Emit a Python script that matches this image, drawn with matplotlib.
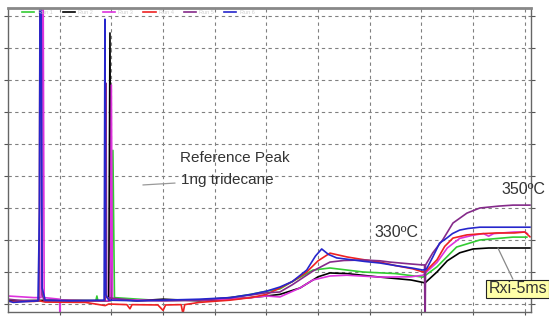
import matplotlib
matplotlib.use("Agg")
import matplotlib.pyplot as plt

plt.rcParams['font.family'] = ['Liberation Sans', 'DejaVu Sans']

# ---- data (time units, signal units) ----
green_x = [0, 1.5, 1.70, 1.72, 1.74, 2.0, 2.03, 2.06, 3.0, 3.7, 4.3, 4.7, 5.0, 5.26, 5.5, 5.9, 6.23,
           6.87, 7.5, 8.03, 8.3, 8.68, 9.13, 9.77, 10.04]
green_y = [0.10, 0.10, 0.10, 0.25, 0.10, 0.10, 4.8, 0.20, 0.10, 0.12, 0.20, 0.30, 0.40, 0.47, 0.70,
           1.06, 1.125, 1.0, 0.95, 0.84, 1.16, 1.78, 2.0, 2.09, 2.09]

black_x = [0, 1.0, 1.95, 1.973, 1.99, 2.5, 3.0, 3.7, 4.3, 4.68, 5.0, 5.26, 5.65, 6.0, 6.23, 6.56,
           7.2, 7.8, 8.07, 8.3, 8.5, 8.74, 9.0, 9.3, 9.77, 10.1]
black_y = [0.10, 0.12, 0.10, 8.47, 0.15, 0.10, 0.15, 0.10, 0.15, 0.20, 0.25, 0.30, 0.50, 0.85, 0.97,
           0.95, 0.84, 0.75, 0.66, 1.0, 1.35, 1.60, 1.72, 1.75, 1.75, 1.75]

magenta_x = [0, 0.5, 0.64, 0.66, 0.68, 0.70, 1.0, 1.006, 1.012, 1.5, 1.98, 2.0, 2.02, 3.0, 3.7,
             4.3, 4.7, 5.0, 5.26, 5.65, 5.9, 6.23, 6.56, 7.2, 7.8, 8.03, 8.3, 8.5, 8.74, 9.0, 9.2,
             9.3, 9.4, 9.8, 10.0, 10.05]
magenta_y = [0.25, 0.20, 0.20, 10.0, 10.0, 0.20, 0.15, -1.0, 0.12, 0.10, 0.10, 6.84, 0.15, 0.10,
             0.12, 0.15, 0.20, 0.25, 0.22, 0.50, 0.75, 0.875, 0.90, 0.84, 0.85, 0.90, 1.30, 1.75,
             2.05, 2.15, 2.20, 2.12, 2.20, 2.25, 2.25, 2.20]

red_x = [0, 0.5, 0.62, 0.66, 0.72, 1.5, 1.88, 1.95, 2.3, 2.36, 2.4, 2.9, 3.0, 3.05, 3.35, 3.385,
         3.42, 3.7, 4.3, 4.7, 5.0, 5.26, 5.5, 5.78, 6.0, 6.23, 6.56, 6.9, 7.2, 7.5, 7.83, 8.03,
         8.1, 8.3, 8.45, 8.61, 8.88, 9.2, 9.46, 9.8, 10.0, 10.1]
red_y = [0.08, 0.08, 0.10, 0.08, 0.06, 0.05, -0.05, 0.0, -0.02, -0.15, -0.02, -0.03, -0.2, -0.03,
         -0.02, -0.3, -0.02, 0.05, 0.12, 0.20, 0.30, 0.50, 0.70, 1.0, 1.35, 1.59, 1.47, 1.38,
         1.31, 1.20, 1.10, 1.0, 1.05, 1.38, 1.80, 2.06, 2.16, 2.20, 2.22, 2.22, 2.25, 2.10]

purple_x = [0, 0.3, 0.60, 0.62, 0.64, 0.66, 0.70, 1.3, 1.88, 1.896, 1.91, 2.5, 3.7, 4.3, 4.7, 5.0,
            5.26, 5.5, 5.9, 6.23, 6.5, 6.87, 7.2, 7.39, 7.8, 8.03, 8.06, 8.07, 8.08, 8.22, 8.41,
            8.61, 8.88, 9.13, 9.5, 9.77, 10.1]
purple_y = [0.15, 0.10, 0.10, 10.0, 10.0, 0.30, 0.10, 0.10, 0.10, 6.9, 0.20, 0.10, 0.12, 0.20,
            0.28, 0.35, 0.375, 0.60, 1.03, 1.31, 1.36, 1.375, 1.35, 1.31, 1.25, 1.22, 1.22, -1.0,
            1.22, 1.60, 2.0, 2.53, 2.84, 3.0, 3.06, 3.09, 3.09]

blue_x = [0, 0.1, 0.58, 0.61, 0.62, 0.64, 0.66, 0.72, 1.2, 1.86, 1.876, 1.89, 1.95, 2.5, 3.0,
          3.7, 4.3, 4.7, 5.0, 5.26, 5.5, 5.78, 5.95, 6.07, 6.2, 6.36, 6.56, 6.9, 7.2, 7.5, 7.83,
          8.03, 8.1, 8.22, 8.35, 8.49, 8.6, 8.74, 8.9, 9.13, 9.5, 9.8, 10.1]
blue_y = [0.10, 0.05, 0.10, 3.0, 10.0, 10.0, 0.5, 0.12, 0.10, 0.12, 8.9, 0.30, 0.12, 0.10, 0.12,
          0.15, 0.20, 0.30, 0.40, 0.53, 0.70, 1.06, 1.50, 1.72, 1.55, 1.44, 1.40, 1.33, 1.28,
          1.20, 1.12, 1.06, 1.10, 1.47, 1.90, 2.06, 2.20, 2.31, 2.36, 2.40, 2.40, 2.40, 2.40]

series = [
    ("Run 1", "#33cc33", green_x, green_y),
    ("Run 2", "#000000", black_x, black_y),
    ("Run 3", "#dd33dd", magenta_x, magenta_y),
    ("Run 4", "#ee2222", red_x, red_y),
    ("Run 5", "#852a8a", purple_x, purple_y),
    ("Run 6", "#2626cc", blue_x, blue_y),
]

# ---- figure ----
W, H = 549, 320
fig = plt.figure(figsize=(W / 100, H / 100), dpi=100)
ax = fig.add_axes([8 / W, 8 / H, (531 - 8) / W, (312 - 8) / H])

for name, col, xs, ys in series:
    ax.plot(xs, ys, color=col, lw=1.2, label=name)

ax.set_xlim(0, 10.12)
ax.set_ylim(-0.25, 9.25)
ax.set_xticks(range(1, 11))
ax.set_yticks(range(0, 10))
ax.grid(True, color="#808080", lw=0.8, ls=(0, (3, 3)))
ax.tick_params(axis="both", labelbottom=False, labelleft=False, length=3,
               color="#555555", direction="out")
ax.tick_params(axis="y", right=True, left=True)
ax.tick_params(axis="x", bottom=True, length=2)
for s in ["left", "bottom", "right"]:
    ax.spines[s].set_color("#666666")
    ax.spines[s].set_linewidth(1.0)
ax.spines["top"].set_color("#888888")
ax.spines["top"].set_linewidth(2.0)

leg = ax.legend(loc="center left", bbox_to_anchor=(0.027, 1 - 4.5 / 304), ncol=6, frameon=False,
                fontsize=4, handlelength=2.2, handletextpad=0.6, columnspacing=1.8,
                borderaxespad=0.0, borderpad=0.0)
for t in leg.get_texts():
    t.set_color("#d0d0d0")

txtc = "#333333"
ax.text(3.33, 4.56, "Reference Peak", fontsize=11, color=txtc, ha="left", va="center")
ax.annotate("1ng tridecane", xy=(2.61, 3.72), xytext=(3.34, 3.875), fontsize=11, color=txtc,
            ha="left", va="center",
            arrowprops=dict(arrowstyle="-", color="#999999", lw=0.9, shrinkA=2, shrinkB=0))
ax.text(7.52, 2.22, "330ºC", fontsize=11.5, color=txtc, ha="center", va="center")
ax.text(9.555, 3.59, "350ºC", fontsize=11.5, color=txtc, ha="left", va="center", clip_on=False)
ax.annotate("Rxi-5ms", xy=(9.48, 1.75), xytext=(9.86, 0.47), fontsize=11.5, color=txtc,
            ha="center", va="center", annotation_clip=False,
            bbox=dict(boxstyle="square,pad=0.12", fc="#ffffa8", ec="#222222", lw=0.8),
            arrowprops=dict(arrowstyle="-", color="#888888", lw=0.9, shrinkA=0, shrinkB=0))

fig.savefig("out.png", dpi=100)
